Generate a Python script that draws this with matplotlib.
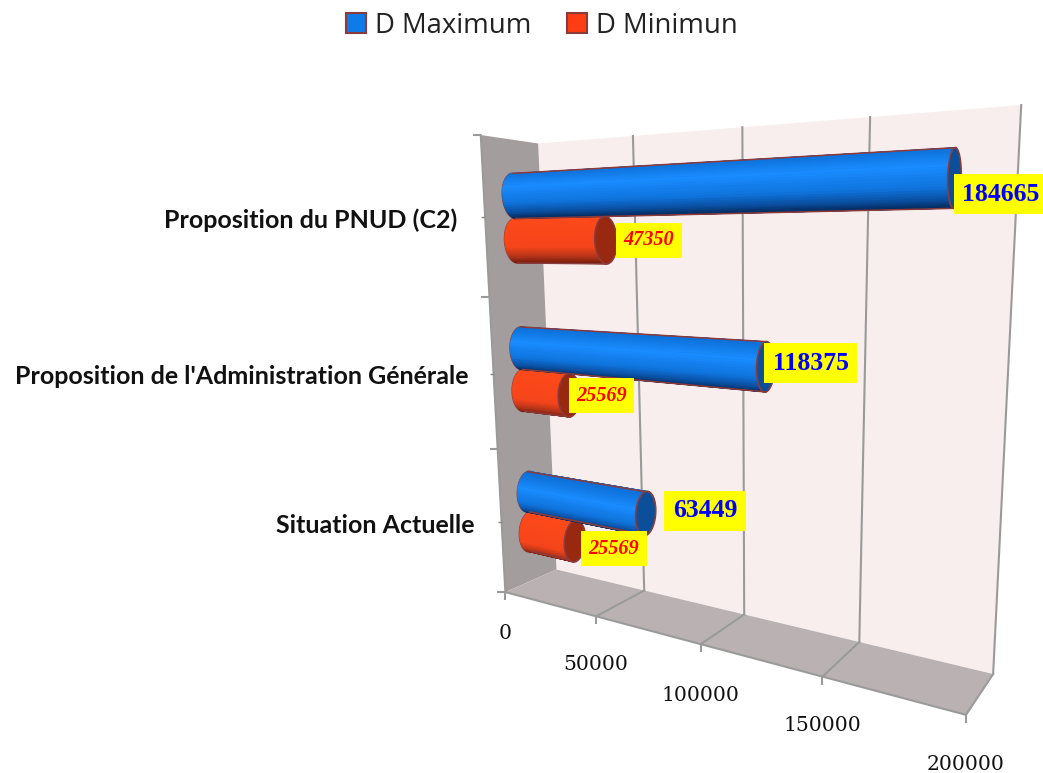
import numpy as np
import matplotlib
matplotlib.use("Agg")
import matplotlib.pyplot as plt
from matplotlib.patches import Patch
from matplotlib.transforms import Transform
from matplotlib.colors import LinearSegmentedColormap
from matplotlib.lines import TICKLEFT, TICKDOWN

# ---- data ----
categories = ["Situation Actuelle", "Proposition de l'Administration Générale", "Proposition du PNUD (C2)"]
d_maximum = [63449, 118375, 184665]
d_minimum = [25569, 25569, 47350]
value_ticks = [0, 50000, 100000, 150000, 200000]
series_names = ["D Maximum", "D Minimun"]

VMAX = 200000.0
N = len(categories)

# ---- camera: fitted to the reference's box corners ----
# (value, category position, depth) -> pixel
_world = [(0,0,0),(50000,0,0),(100000,0,0),(150000,0,0),(200000,0,0),
          (0,0,1),(50000,0,1),(100000,0,1),(150000,0,1),(200000,0,1),
          (0,3,1),(50000,3,1),(100000,3,1),(150000,3,1),(200000,3,1),
          (0,3,0),(0,2,0),(0,1,0)]
_pix = [(505.7,592),(597,616),(701,644),(823,677),(966,715),
        (557,570),(643,591),(744,614),(859,642),(993,674),
        (539,143),(633,136),(743,127),(870,117),(1021,105),
        (480,136),(489,297),(497,448)]


def fit_camera(world, pix):
    A, b = [], []
    for (v, c, d), (x, y) in zip(world, pix):
        X = [v / VMAX, c / 3.0, d, 1.0]
        A.append(X + [0, 0, 0, 0] + [-x * X[0], -x * X[1], -x * X[2]])
        A.append([0, 0, 0, 0] + X + [-y * X[0], -y * X[1], -y * X[2]])
        b += [x, y]
    p = np.linalg.lstsq(np.array(A), np.array(b), rcond=None)[0]
    return np.append(p, 1.0).reshape(3, 4)


CAM = fit_camera(_world, _pix)


class Proj(Transform):
    """Axis transform: two free chart coordinates -> pixel, through CAM."""
    input_dims = output_dims = 2
    is_separable = False
    has_inverse = False

    def __init__(self, to3d):
        super().__init__()
        self.to3d = to3d

    def transform_non_affine(self, values):
        values = np.asarray(values, float)
        v, c, d = self.to3d(values[:, 0], values[:, 1])
        X = np.column_stack([v / VMAX, c / 3.0, d, np.ones_like(v)])
        h = X @ CAM.T
        return h[:, :2] / h[:, 2:3]


def plane(depth):
    return Proj(lambda v, c: (v, c, np.full_like(v, depth)))


def side(value):
    return Proj(lambda c, d: (np.full_like(c, value), c, d))


fig = plt.figure(figsize=(10.43, 7.73), dpi=100, facecolor="white")
ax = fig.add_axes([0, 0, 1, 1])
ax.set_xlim(0, 1043)
ax.set_ylim(773, 0)
ax.axis("off")
ax.set_autoscale_on(False)
T = ax.transData

GRID = "#9a9a9a"
WALL = "#f8eeee"
LEFTW = "#a39d9d"
FLOOR = "#bab2b2"
EDGE = "#8c3b3b"

# walls and floor
ax.fill([0, VMAX, VMAX, 0], [0, 0, N, N], color=WALL, lw=0, transform=plane(1.0) + T, zorder=1)
ax.fill([0, N, N, 0], [0, 0, 1, 1], color=LEFTW, lw=0, transform=side(0.0) + T, zorder=1)
floor_tf = Proj(lambda v, d: (v, np.zeros_like(v), d))
ax.fill([0, VMAX, VMAX, 0], [0, 0, 1, 1], color=FLOOR, lw=0, transform=floor_tf + T, zorder=1)

# grid
for v in value_ticks[1:]:
    ax.plot([v, v], [0, N], color=GRID, lw=1.5, transform=plane(1.0) + T, zorder=2)
    ax.plot([v, v], [0, 1], color=GRID, lw=1.5, transform=floor_tf + T, zorder=2)
ax.plot([0, VMAX], [0, 0], color=GRID, lw=1.5, transform=plane(0.0) + T, zorder=2)
ax.plot([0, 0], [0, N], color=GRID, lw=1.5, transform=plane(0.0) + T, zorder=2)
ax.plot(value_ticks, [0] * len(value_ticks), ls="", marker=TICKDOWN, ms=5.5, mew=1.5, color=GRID,
        transform=plane(0.0) + T, zorder=2)
ax.plot([0] * (N + 1), range(N + 1), ls="", marker=TICKLEFT, ms=6, mew=1.5, color=GRID,
        transform=plane(0.0) + T, zorder=2)
ax.plot([0] * N, [i + 0.5 for i in range(N)], ls="", marker=TICKLEFT, ms=3, mew=1, color="#8a8585",
        transform=plane(0.0) + T, zorder=2)

# cylinders
RC = 0.144   # radius in category units
RD = 0.21    # radius in depth units
DC = 0.52    # depth of the bar axis
blue = LinearSegmentedColormap.from_list("b", [(0, "#04285a"), (0.14, "#0a4fa0"), (0.34, "#0f74dd"),
                                               (0.68, "#1a8cff"), (1, "#0d6fd6")])
red = LinearSegmentedColormap.from_list("r", [(0, "#6e1c0c"), (0.16, "#b5341a"), (0.36, "#f5451a"),
                                              (1, "#ff4a1a")])
THETA = np.radians(np.arange(0, 360, 6.0))
DT = THETA[1] - THETA[0]
ELL = np.radians(np.linspace(0, 360, 61))


def cylinder(value, cpos, cmap, capcolor, z):
    surf = Proj(lambda v, t: (v, cpos + RC * np.sin(t), DC + RD * np.cos(t)))
    cc, dd = cpos + RC * np.sin(ELL), DC + RD * np.cos(ELL)
    ax.fill(cc, dd, facecolor=cmap(0.55), edgecolor=EDGE, lw=1.2, transform=side(0.0) + T, zorder=z)
    order = sorted(THETA, key=lambda t: -np.cos(t + DT / 2))
    for t in order:
        col = cmap((np.sin(t + DT / 2) + 1) / 2)
        ax.fill([0, value, value, 0], [t, t, t + DT, t + DT], facecolor=col, edgecolor=col, lw=0.4,
                transform=surf + T, zorder=z)
    for t in (np.pi / 2, 3 * np.pi / 2):
        ax.plot([0, value], [t, t], color=EDGE, lw=1.1, transform=surf + T, zorder=z)
    ax.fill(cc, dd, facecolor=capcolor, edgecolor=EDGE, lw=1.2, transform=side(value) + T, zorder=z)


for i in range(N):
    cylinder(d_minimum[i], i + 0.5 - RC, red, "#98280f", 3 + i * 0.1)
for i in range(N):
    cylinder(d_maximum[i], i + 0.5 + RC, blue, "#0b4f9a", 4 + i * 0.1)

# data labels
max_offsets = [(60, 3), (46, 4), (47, -16)]
min_offsets = [(40, -7), (33, 0), (44, 0)]
for i in range(N):
    ax.annotate(str(d_maximum[i]), xy=(d_maximum[i], i + 0.5 + RC), xycoords=plane(0.5) + T,
                xytext=max_offsets[i], textcoords="offset pixels", ha="center", va="center",
                family="Liberation Serif", weight="bold", size=18.5, color="#0000ff",
                bbox=dict(boxstyle="square,pad=0.33", fc="#ffff00", ec="none"), zorder=6)
    ax.annotate(str(d_minimum[i]), xy=(d_minimum[i], i + 0.5 - RC), xycoords=plane(0.5) + T,
                xytext=min_offsets[i], textcoords="offset pixels", ha="center", va="center",
                family="Liberation Serif", weight="bold", style="italic", size=14.6, color="#ff0000",
                bbox=dict(boxstyle="square,pad=0.36", fc="#ffff00", ec="none"), zorder=6)

# axis labels
tick_offsets = [-41, -48, -51, -49, -50]
for v, off in zip(value_ticks, tick_offsets):
    ax.annotate(str(v), xy=(v, 0), xycoords=plane(0.0) + T, xytext=(0, off), textcoords="offset pixels",
                ha="center", va="center", family="DejaVu Serif", size=14.6, color="#111111", zorder=6)

cat_offsets = [(-27, -4), (-25, -2), (-28, -3)]
for i, name in enumerate(categories):
    ax.annotate(name, xy=(0, i + 0.5), xycoords=plane(0.0) + T, xytext=cat_offsets[i],
                textcoords="offset pixels", ha="right", va="center", family="Lato", weight="bold",
                size=18, color="#111111", zorder=6)

handles = [Patch(facecolor="#0f7be8", edgecolor=EDGE, lw=1.5, label=series_names[0]),
           Patch(facecolor="#ff3d14", edgecolor=EDGE, lw=1.5, label=series_names[1])]
ax.legend(handles=handles, loc="center", bbox_to_anchor=(0.5197, 0.967), ncol=2, frameon=False,
          prop={"family": "Open Sans", "size": 19.8}, handlelength=0.72, handleheight=0.72,
          handletextpad=0.33, columnspacing=1.3, labelcolor="#222222")

fig.savefig("out.png", dpi=100, facecolor="white")
